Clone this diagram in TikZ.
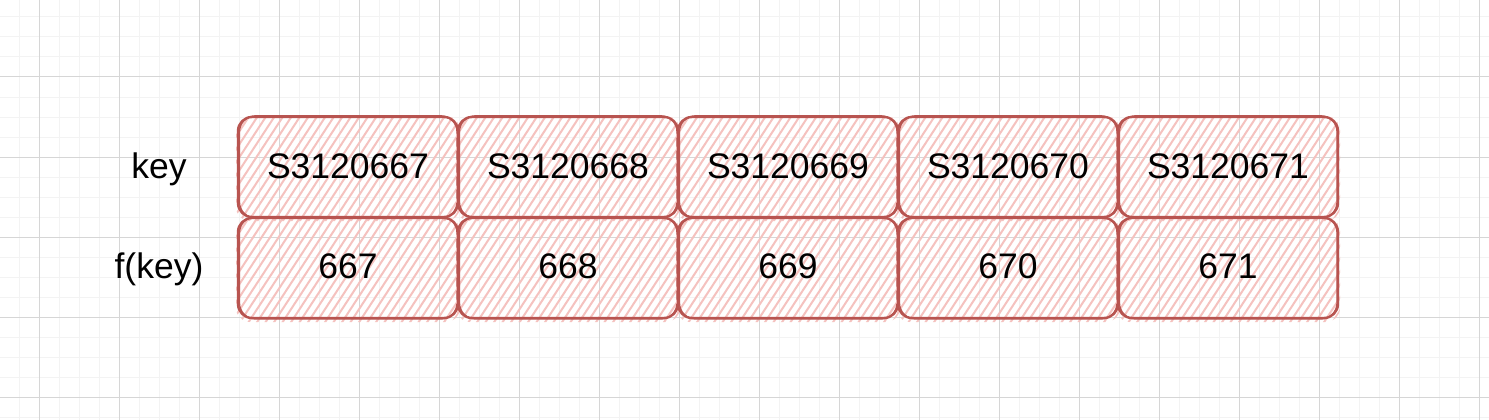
\documentclass[tikz,border=0pt]{standalone}
\usepackage{fontspec}
\setmainfont{Liberation Sans}
\definecolor{gmin}{HTML}{F3F3F3}
\definecolor{gmaj}{HTML}{D6D6D6}
\definecolor{rstroke}{HTML}{B85450}
\definecolor{rfill}{HTML}{F5C2BF}
\tikzset{
  lbl/.style={font=\fontsize{35.5}{40}\selectfont, inner sep=0pt, anchor=base},
  hatchline/.style={draw=rfill, line width=2pt},
  sketchA/.style={draw=rstroke, line width=2.4pt, rounded corners=14pt, line join=round},
  sketchB/.style={draw=rstroke, line width=1.3pt, rounded corners=16pt, line join=round},
}
% \cellbox{name}{x0}{y0}{text}{baseline}
\newcommand{\cellbox}[5]{%
  \pgfmathsetmacro{\xa}{#2}\pgfmathsetmacro{\ya}{#3}%
  \pgfmathsetmacro{\xb}{#2+220}\pgfmathsetmacro{\yb}{#3+100}%
  \begin{scope}
    \clip[rounded corners=14pt] (\xa-2,\ya-1) rectangle (\xb+2,\yb+4);
    \foreach \t in {-75,-66.5,...,230} {
      \draw[hatchline] (\xa+\t,\yb+5) -- ++(72,-110);
    }
  \end{scope}
  \draw[sketchA] (\xa,\ya) rectangle (\xb,\yb);
  \draw[sketchB] (\xa+1.5,\ya-1.2) rectangle (\xb-1,\yb+1);
  \node[lbl] (#1) at ({(\xa+\xb)/2},#5) {#4};
}
\begin{document}
\begin{tikzpicture}[x=1pt,y=-1pt]
\useasboundingbox (0,0) rectangle (1489,420);
\fill[white] (0,0) rectangle (1489,420);
% grid
\foreach \x in {19.5,39.5,...,1489} {\draw[gmin,line width=1pt] (\x,0) -- (\x,420);}
\foreach \y in {17,37,...,420} {\draw[gmin,line width=1pt] (0,\y) -- (1489,\y);}
\foreach \x in {39.5,119.5,...,1489} {\draw[gmaj,line width=1pt] (\x,0) -- (\x,420);}
\foreach \y in {77,157,...,420} {\draw[gmaj,line width=1pt] (0,\y) -- (1489,\y);}
% row labels
\node[lbl] (keylbl) at (159,178) {key};
\node[lbl] (flbl) at (159,278) {f(key)};
% cells
\cellbox{k0}{238}{117}{S3120667}{178}
\cellbox{k1}{458}{117}{S3120668}{178}
\cellbox{k2}{678}{117}{S3120669}{178}
\cellbox{k3}{898}{117}{S3120670}{178}
\cellbox{k4}{1118}{117}{S3120671}{178}
\cellbox{f0}{238}{218}{667}{278}
\cellbox{f1}{458}{218}{668}{278}
\cellbox{f2}{678}{218}{669}{278}
\cellbox{f3}{898}{218}{670}{278}
\cellbox{f4}{1118}{218}{671}{278}
\end{tikzpicture}
\end{document}
